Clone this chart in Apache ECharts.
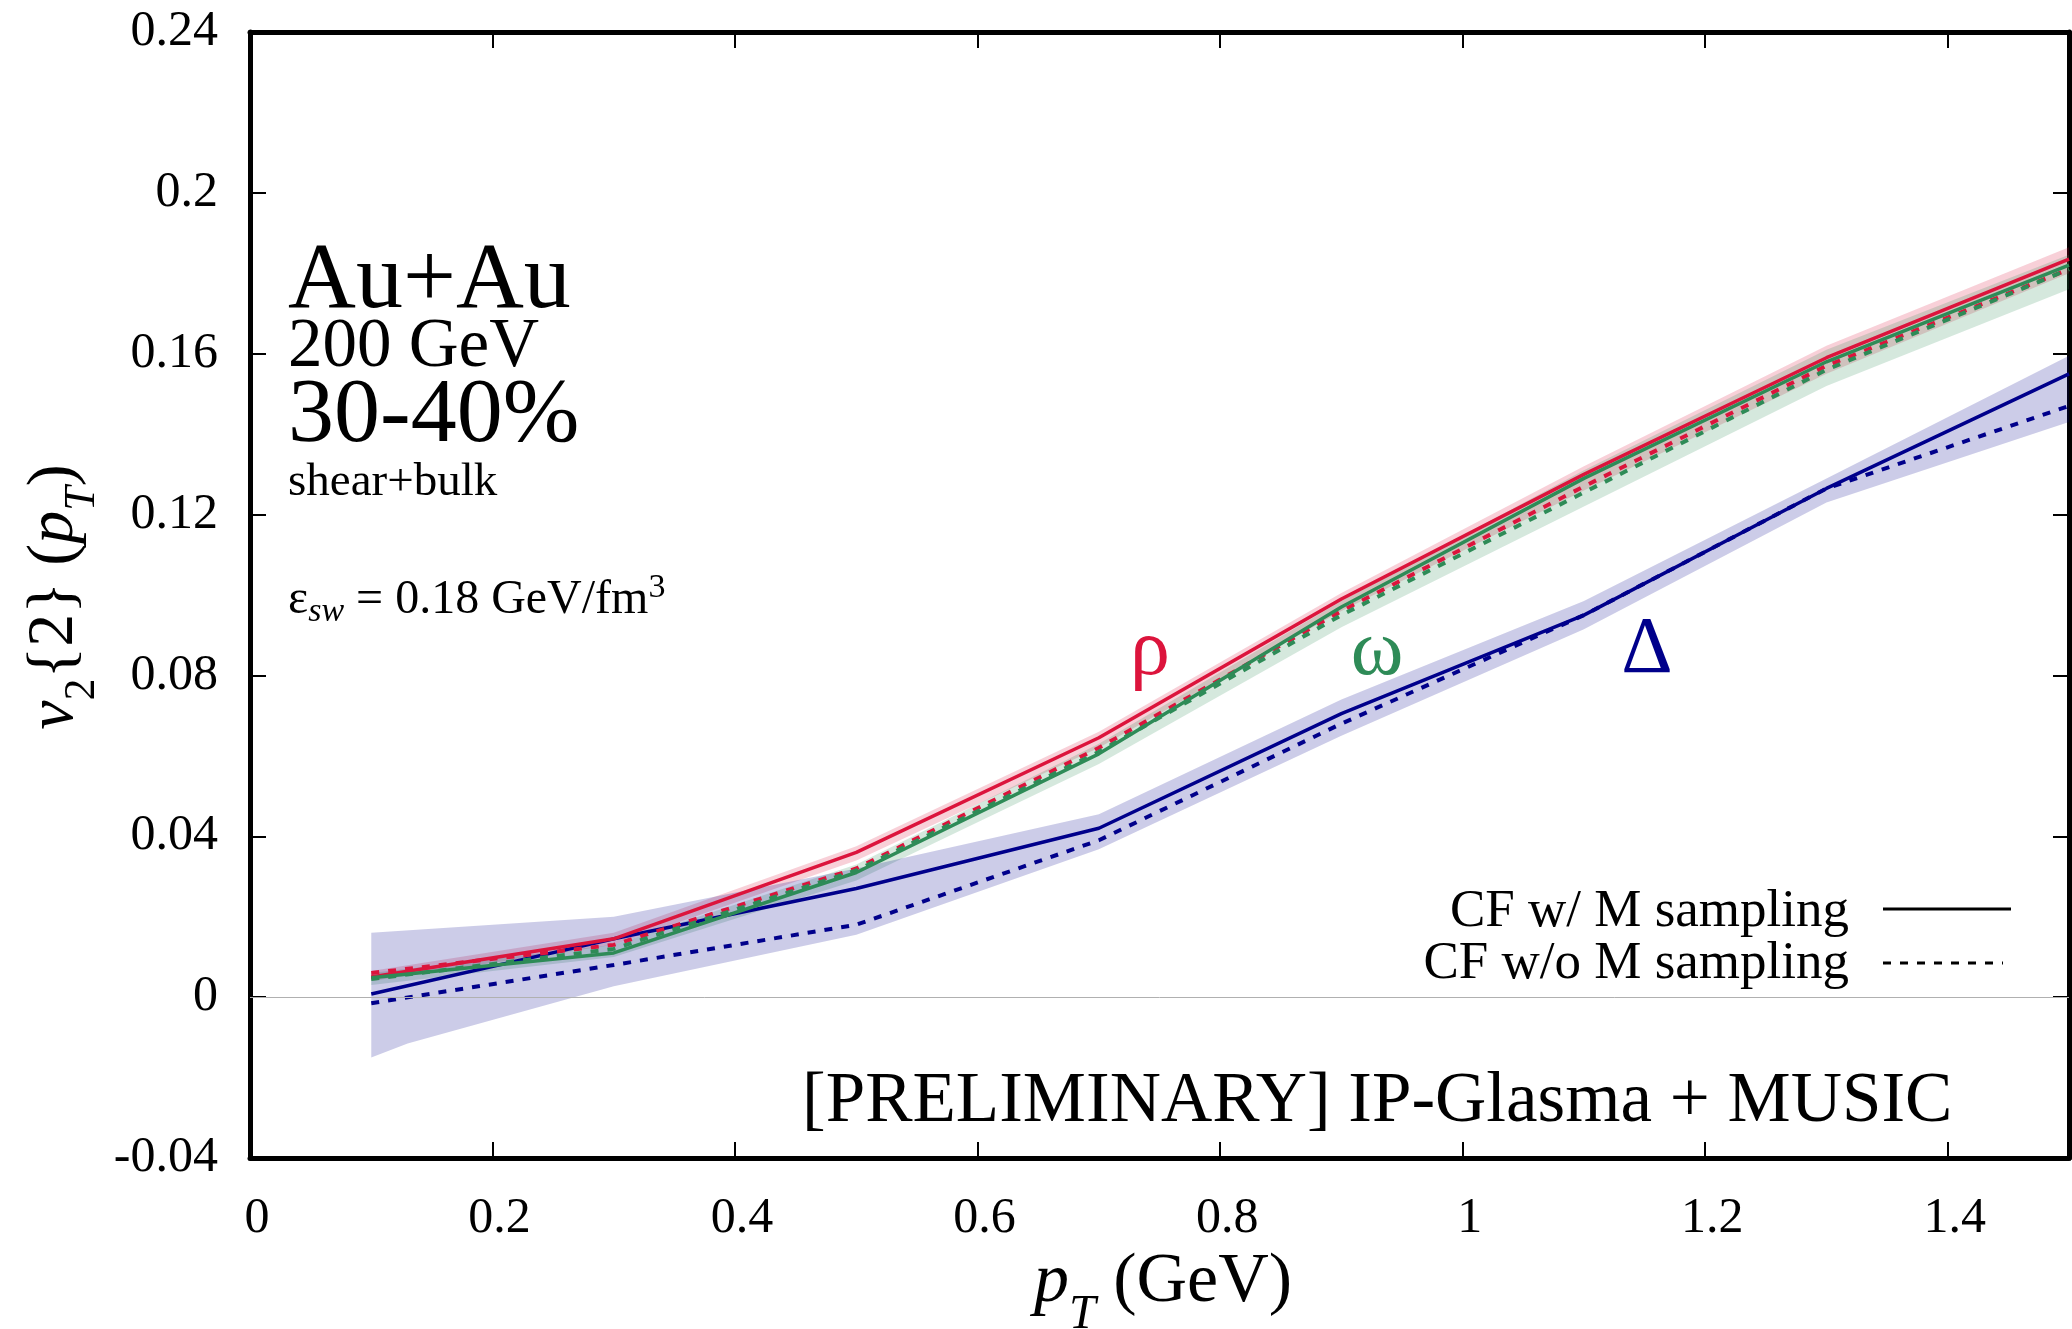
<!DOCTYPE html>
<html>
<head>
<meta charset="utf-8">
<script src="https://cdn.jsdelivr.net/npm/echarts@6/dist/echarts.min.js"></script>
<style>
html,body{margin:0;padding:0;background:#fff;}
#chart{width:2072px;height:1329px;}
</style>
</head>
<body>
<div id="chart"></div>
<script>
// ---- data ----
const pt = [0.1, 0.3, 0.5, 0.7, 0.9, 1.1, 1.3, 1.5];
const rhoWith      = [0.005, 0.0145, 0.036, 0.0645, 0.099, 0.130, 0.159, 0.1835];
const rhoWithout   = [0.006, 0.013, 0.032, 0.062, 0.096, 0.127, 0.157, 0.181];
const omegaWith    = [0.0048, 0.011, 0.031, 0.0605, 0.097, 0.129, 0.158, 0.182];
const omegaWithout = [0.0045, 0.012, 0.0315, 0.061, 0.095, 0.1255, 0.156, 0.181];
const deltaWith    = [0.0008, 0.0145, 0.027, 0.042, 0.0705, 0.095, 0.1265, 0.155];
const deltaWithout = [-0.0015, 0.008, 0.018, 0.039, 0.068, 0.095, 0.1265, 0.147];

// uncertainty bands
const rhoBandUpper   = [0.0065, 0.016, 0.0375, 0.066, 0.1005, 0.132, 0.162, 0.1865];
const rhoBandLower   = [0.004, 0.013, 0.034, 0.062, 0.096, 0.126, 0.155, 0.180];
const omegaBandUpper = [0.006, 0.013, 0.033, 0.063, 0.0985, 0.131, 0.161, 0.1846];
const omegaBandLower = [0.003, 0.010, 0.029, 0.058, 0.092, 0.122, 0.152, 0.176];
const deltaBandUpperX = [0.1, 0.3, 0.5, 0.7, 0.9, 1.1, 1.3, 1.5];
const deltaBandUpper  = [0.016, 0.020, 0.032, 0.0455, 0.074, 0.0985, 0.129, 0.1595];
const deltaBandLowerX = [0.1, 0.13, 0.3, 0.5, 0.7, 0.9, 1.1, 1.3, 1.5];
const deltaBandLower  = [-0.015, -0.0115, 0.0027, 0.0155, 0.0368, 0.065, 0.0915, 0.123, 0.143];

// axes
const xMin = 0, xMax = 1.5, xStep = 0.2;
const yMin = -0.04, yMax = 0.24, yStep = 0.04;

const FONT = "'Liberation Serif', 'DejaVu Serif', serif";
const RED = '#dc143c', GREEN = '#2e8b57', BLUE = '#00008b';

const chart = echarts.init(document.getElementById('chart'), null, {renderer: 'canvas'});

function pairs(xs, ys) { return xs.map((x, i) => [x, ys[i]]); }

function band(name, ux, uy, lx, ly, color, z) {
  return {
    type: 'custom', name: name, silent: true, z: z, clip: true,
    xAxisIndex: 0, yAxisIndex: 0,
    data: [[ux[0], uy[0]]],
    renderItem: function (params, api) {
      const pts = [];
      for (let i = 0; i < ux.length; i++) pts.push(api.coord([ux[i], uy[i]]));
      for (let i = lx.length - 1; i >= 0; i--) pts.push(api.coord([lx[i], ly[i]]));
      return {type: 'polygon', shape: {points: pts}, style: {fill: color}};
    }
  };
}

function line(name, ys, color, dashed, z) {
  return {
    type: 'line', name: name, data: pairs(pt, ys), showSymbol: false, symbol: 'none',
    silent: true, z: z, clip: true,
    lineStyle: {color: color, width: dashed ? 4 : 3.5, type: dashed ? [8, 9] : 'solid'}
  };
}

const axisLineStyle = {show: true, onZero: false, lineStyle: {color: '#000', width: 5}};
const tickStyle = {show: true, inside: true, length: 16, lineStyle: {color: '#000', width: 2}};

const series = [
  band('rho band', pt, rhoBandUpper, pt, rhoBandLower, 'rgba(220,20,60,0.2)', 1),
  band('omega band', pt, omegaBandUpper, pt, omegaBandLower, 'rgba(46,139,87,0.2)', 1),
  band('delta band', deltaBandUpperX, deltaBandUpper, deltaBandLowerX, deltaBandLower, 'rgba(0,0,139,0.2)', 1),
  Object.assign(line('Δ w/o M', deltaWithout, BLUE, true, 3), {
    markLine: {silent: true, symbol: 'none', label: {show: false}, animation: false,
      lineStyle: {color: '#b0b0b0', width: 1, type: 'solid'}, data: [{yAxis: 0}]}
  }),
  line('Δ w/ M', deltaWith, BLUE, false, 4),
  line('ρ w/o M', rhoWithout, RED, true, 5),
  line('ω w/o M', omegaWithout, GREEN, true, 6),
  line('ρ w/ M', rhoWith, RED, false, 7),
  line('ω w/ M', omegaWith, GREEN, false, 8)
];

function txt(x, y, text, size, color, align, extra) {
  return Object.assign({
    type: 'text', x: x, y: y, silent: true, z: 50,
    style: {text: text, font: size + 'px ' + FONT, fill: color || '#000',
      textAlign: align || 'left', textVerticalAlign: 'middle'}
  }, extra || {});
}

const graphics = [
  txt(288, 313 - 31, 'Au+Au', 94),
  txt(288, 371 - 23, '200 GeV', 69),
  txt(288, 447 - 30, '30-40%', 92),
  txt(288, 498 - 15, 'shear+bulk', 47),
  {
    type: 'text', x: 288, y: 600, silent: true, z: 50,
    style: {
      text: '{n|ε}{sub|sw}{n| = 0.18 GeV/fm}{sup|3}',
      textVerticalAlign: 'middle', textAlign: 'left',
      rich: {
        n: {fontFamily: FONT, fontSize: 48, lineHeight: 58, fill: '#000'},
        sub: {fontFamily: FONT, fontSize: 34, fontStyle: 'italic', lineHeight: 34, verticalAlign: 'bottom', fill: '#000'},
        sup: {fontFamily: FONT, fontSize: 34, lineHeight: 34, verticalAlign: 'top', fill: '#000'}
      }
    }
  },
  txt(1150, 677 - 24, 'ρ', 80, RED, 'center'),
  txt(1377, 677 - 24, 'ω', 80, GREEN, 'center'),
  txt(1647, 678 - 27, 'Δ', 80, BLUE, 'center'),
  txt(1849, 929 - 17, 'CF w/ M sampling', 53, '#000', 'right'),
  txt(1849, 981 - 17, 'CF w/o M sampling', 53, '#000', 'right'),
  {type: 'line', silent: true, z: 50, shape: {x1: 1883, y1: 909, x2: 2011, y2: 909},
    style: {stroke: '#000', lineWidth: 3}},
  {type: 'line', silent: true, z: 50, shape: {x1: 1883, y1: 963, x2: 2003, y2: 963},
    style: {stroke: '#000', lineWidth: 3, lineDash: [8, 9]}},
  txt(802, 1125 - 23, '[PRELIMINARY] IP-Glasma + MUSIC', 71),
  // x axis name
  {
    type: 'text', x: 1163, y: 1283, silent: true, z: 50,
    style: {
      text: '{i|p}{sub|T}{n| (GeV)}',
      textAlign: 'center', textVerticalAlign: 'middle',
      rich: {
        i: {fontFamily: FONT, fontSize: 70, fontStyle: 'italic', lineHeight: 72, fill: '#000'},
        n: {fontFamily: FONT, fontSize: 70, lineHeight: 72, fill: '#000'},
        sub: {fontFamily: FONT, fontSize: 48, fontStyle: 'italic', lineHeight: 48, verticalAlign: 'bottom', fill: '#000', padding: [0, 0, -20, 0]}
      }
    }
  },
  // y axis name (braces kept outside rich tokens as plain text)
  {
    type: 'text', x: 55, y: 597, rotation: Math.PI / 2, silent: true, z: 50,
    style: {
      text: '{i|v}{sub|2}{2} ({i|p}{subi|T})',
      fontFamily: FONT, fontSize: 66, lineHeight: 70, fill: '#000',
      textAlign: 'center', textVerticalAlign: 'middle',
      rich: {
        i: {fontFamily: FONT, fontSize: 66, fontStyle: 'italic', lineHeight: 70, fill: '#000'},
        sub: {fontFamily: FONT, fontSize: 44, lineHeight: 44, verticalAlign: 'bottom', fill: '#000', padding: [0, 0, -14, 0]},
        subi: {fontFamily: FONT, fontSize: 44, fontStyle: 'italic', lineHeight: 44, verticalAlign: 'bottom', fill: '#000', padding: [0, 0, -14, 0]}
      }
    }
  }
];

const option = {
  animation: false,
  backgroundColor: '#fff',
  textStyle: {fontFamily: FONT},
  grid: {left: 250, right: -3, top: 32, bottom: 171, containLabel: false},
  xAxis: [
    {type: 'value', position: 'bottom', min: xMin, max: xMax, interval: xStep,
      axisLine: axisLineStyle, axisTick: tickStyle, splitLine: {show: false},
      axisLabel: {show: true, margin: 36, color: '#000', fontFamily: FONT, fontSize: 50,
        padding: [0, 0, 0, 14],
        formatter: v => (v > 1.45) ? '' : String(Number(v.toFixed(1)))}},
    {type: 'value', position: 'top', min: xMin, max: xMax, interval: xStep,
      axisLine: axisLineStyle, axisTick: tickStyle, splitLine: {show: false},
      axisLabel: {show: false}}
  ],
  yAxis: [
    {type: 'value', position: 'left', min: yMin, max: yMax, interval: yStep,
      axisLine: axisLineStyle, axisTick: tickStyle, splitLine: {show: false},
      axisLabel: {show: true, margin: 32, color: '#000', fontFamily: FONT, fontSize: 50,
        formatter: v => String(Number(v.toFixed(2)))}},
    {type: 'value', position: 'right', min: yMin, max: yMax, interval: yStep,
      axisLine: axisLineStyle, axisTick: tickStyle, splitLine: {show: false},
      axisLabel: {show: false}}
  ],
  series: series,
  graphic: graphics
};

chart.setOption(option);
</script>
</body>
</html>
